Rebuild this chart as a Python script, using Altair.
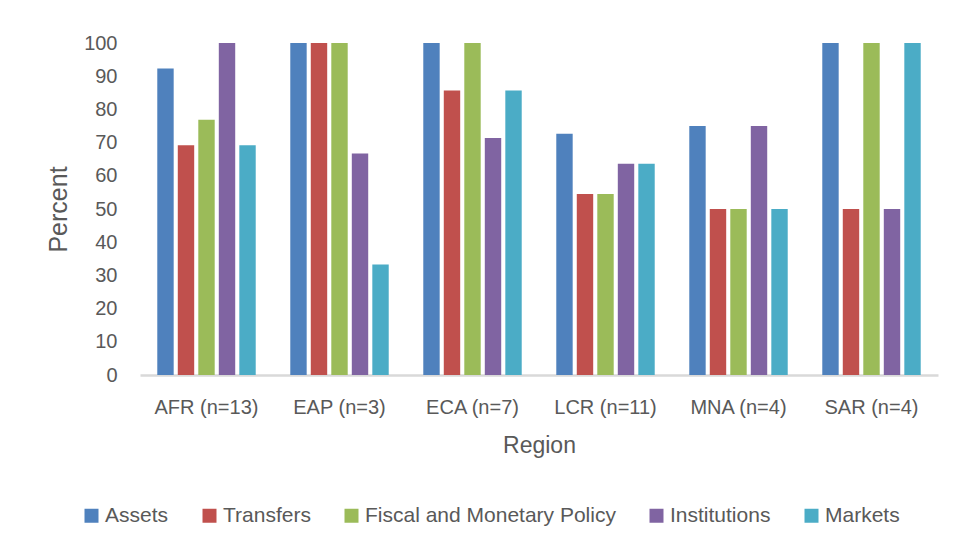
import altair as alt
import pandas as pd

regions = ["AFR (n=13)", "EAP (n=3)", "ECA (n=7)", "LCR (n=11)", "MNA (n=4)", "SAR (n=4)"]
series = ["Assets", "Transfers", "Fiscal and Monetary Policy", "Institutions", "Markets"]
colors = ["#4F81BD", "#C0504D", "#9BBB59", "#8064A2", "#4BACC6"]

assets = [92.3, 100, 100, 72.7, 75, 100]
transfers = [69.2, 100, 85.7, 54.5, 50, 50]
fiscal = [76.9, 100, 100, 54.5, 50, 100]
institutions = [100, 66.7, 71.4, 63.6, 75, 50]
markets = [69.2, 33.3, 85.7, 63.6, 50, 100]

values = [assets, transfers, fiscal, institutions, markets]
rows = []
for s, vals in zip(series, values):
    for r, v in zip(regions, vals):
        rows.append({"Region": r, "Series": s, "Percent": v})
df = pd.DataFrame(rows)

font = "Liberation Sans"
text_color = "#595959"

chart = alt.Chart(df).mark_bar().encode(
    x=alt.X("Region:N", sort=regions,
            scale=alt.Scale(paddingInner=0.229, paddingOuter=0.1145),
            axis=alt.Axis(title="Region", labelAngle=0, labelFontSize=20,
                          labelColor=text_color, labelFont=font,
                          titleFontSize=23, titleColor=text_color, titleFont=font,
                          titleFontWeight="normal", titlePadding=17,
                          ticks=False, tickSize=0, labelPadding=22,
                          domainColor="#D9D9D9", domainWidth=2.5)),
    xOffset=alt.XOffset("Series:N", sort=series,
                        scale=alt.Scale(paddingInner=0.2, paddingOuter=0.1)),
    y=alt.Y("Percent:Q", scale=alt.Scale(domain=[0, 100], nice=False),
            axis=alt.Axis(title="Percent", values=list(range(0, 101, 10)),
                          labelFontSize=20, labelColor=text_color, labelFont=font,
                          titleFontSize=25, titleColor=text_color, titleFont=font,
                          titleFontWeight="normal", titlePadding=12,
                          ticks=False, tickSize=0, labelPadding=23,
                          domain=False, grid=False)),
    color=alt.Color("Series:N", sort=series,
                    scale=alt.Scale(domain=series, range=colors),
                    legend=alt.Legend(title=None, orient="none", direction="horizontal",
                                      legendX=-59, legendY=462,
                                      symbolType="square", symbolSize=196,
                                      symbolStrokeWidth=0,
                                      labelFontSize=21, labelColor=text_color,
                                      labelFont=font, labelOffset=3,
                                      labelLimit=500,
                                      columnPadding=30)),
).properties(
    width=798, height=332,
    autosize=alt.AutoSizeParams(type="none"),
    padding={"left": 132, "top": 35, "right": 7, "bottom": 160},
    background="white",
).configure_view(stroke=None)

chart.save("out.html", embed_options={"renderer": "svg", "actions": False})
